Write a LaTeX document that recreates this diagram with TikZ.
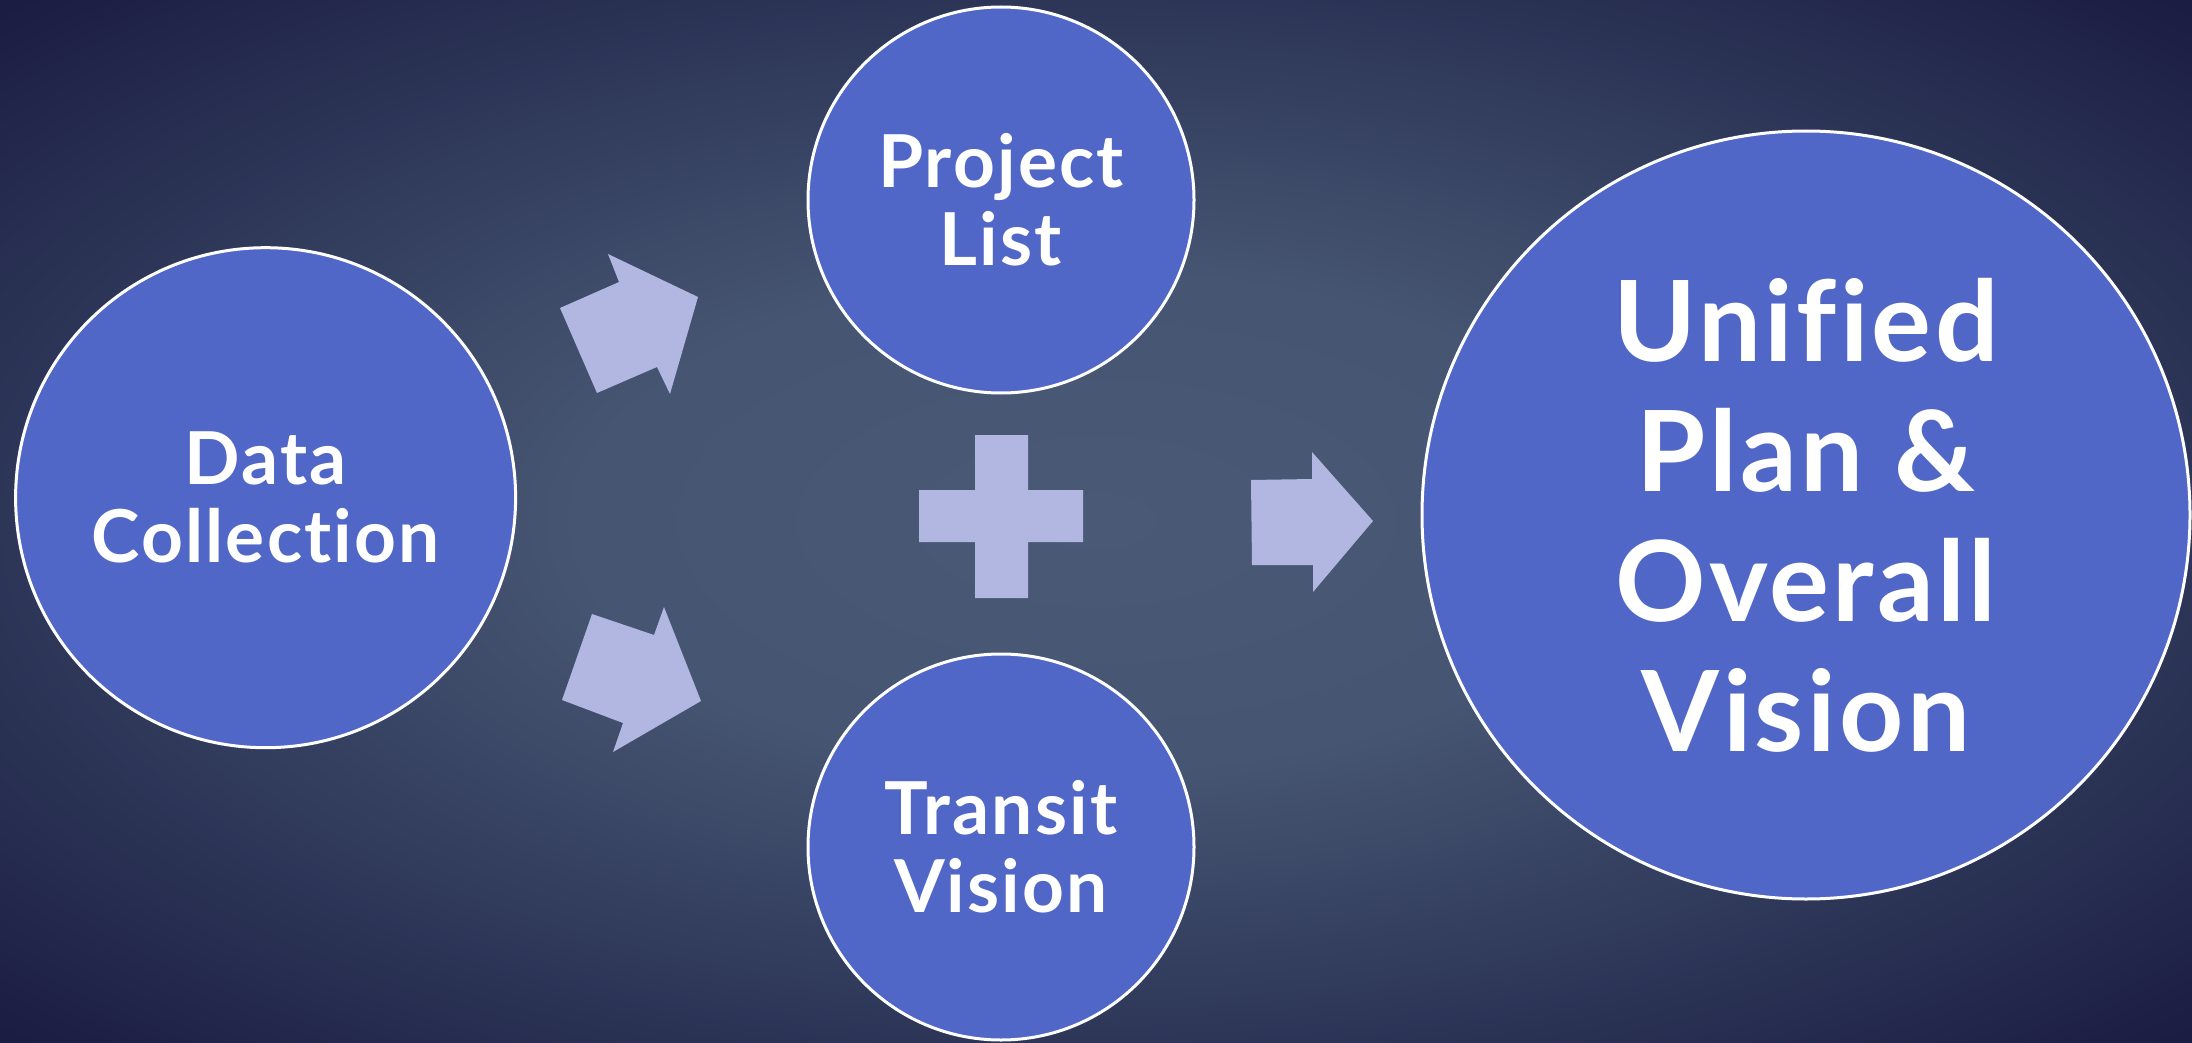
\documentclass[tikz,border=0pt]{standalone}
\usepackage{fontspec}
\setmainfont{Lato}[Ligatures={NoCommon}, LetterSpace=3]
\definecolor{bgcenter}{RGB}{74,90,118}
\definecolor{bgmid}{RGB}{52,64,96}
\definecolor{bgcorner}{RGB}{27,29,66}
\definecolor{circfill}{RGB}{80,103,199}
\definecolor{arrowfill}{RGB}{177,183,224}
\pgfdeclareradialshading{bgshade}{\pgfpoint{0bp}{0bp}}{%
  color(0bp)=(bgcenter); color(12bp)=(bgcenter!80!bgmid); color(25bp)=(bgmid!70!bgcorner); color(35bp)=(bgcorner); color(50bp)=(bgcorner)}
\tikzset{
  circ/.style={circle, draw=white, line width=3pt, fill=circfill, text=white, align=center, inner sep=0pt},
  smalltxt/.style={font=\bfseries\fontsize{73}{78}\selectfont},
  bigtxt/.style={font=\bfseries\fontsize{112}{130}\selectfont},
  blockarrow/.style={fill=arrowfill, draw=none}
}
\begin{document}
\begin{tikzpicture}[x=1pt,y=-1pt]
\useasboundingbox (0,0) rectangle (2192,1043);
\shade[shading=bgshade] (0,0) rectangle (2192,1043);
% circles
\node[circ, smalltxt, minimum size=500pt] (dc) at (265.6,497.7) {Data\\Collection};
\node[circ, smalltxt, minimum size=386pt] (pl) at (1001,200) {Project\\List};
\node[circ, smalltxt, minimum size=386pt] (tv) at (1001,847) {Transit\\Vision};
\node[circ, bigtxt, minimum size=768pt] (uv) at (1806,515) {Unified\\Plan \&\\Overall\\Vision};
% block arrows
\fill[blockarrow] (560,308) -- (619,282) -- (608,254) -- (698,297) -- (670,394) -- (657,367) -- (597,393) -- cycle;
\fill[blockarrow] (592,614) -- (654,635) -- (664,607) -- (701,701) -- (613,752) -- (623,723) -- (562,700) -- cycle;
\fill[blockarrow] (1251,480) -- (1312,479) -- (1312,452) -- (1373,521) -- (1313,592) -- (1313,565) -- (1252,565) -- cycle;
% plus
\fill[blockarrow] (975,435) -- (1028,435) -- (1028,490) -- (1083,490) -- (1083,542) -- (1028,542) -- (1028,598) -- (975,598) -- (975,542) -- (919,542) -- (919,490) -- (975,490) -- cycle;
\end{tikzpicture}
\end{document}
